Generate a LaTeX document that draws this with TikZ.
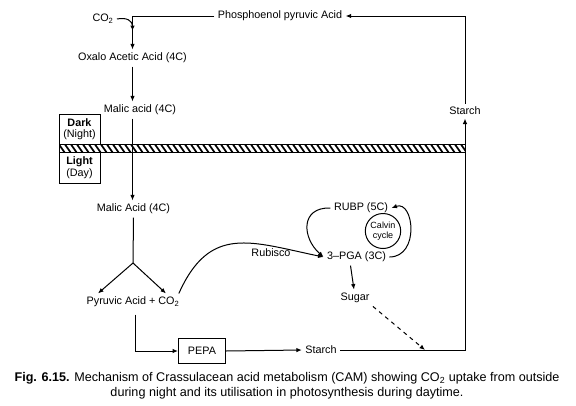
\documentclass[tikz,border=0pt]{standalone}
\usepackage{fontspec}
\setmainfont{Liberation Sans}
\usetikzlibrary{arrows.meta, shapes.geometric}

\begin{document}
\begin{tikzpicture}[x=1pt, y=-1pt,
        every node/.style={font=\fontsize{10.8}{11.5}\selectfont},
        flow/.style={line width=1pt, -{Latex[length=5.5pt, width=4.5pt]}},
        plain/.style={line width=1pt}]
        \useasboundingbox (0,0) rectangle (576,405);

        % Night
        \node (co2) at (103,19) {CO\textsubscript{2}};
        \node (pep) at (280,16) {Phosphoenol pyruvic Acid};
        \node (oaa) at (132.5,58) {Oxalo Acetic Acid (4C)};
        \node (mal1) at (140,110) {Malic acid (4C)};
        \coordinate (jn) at (132.5,31);

        % Dark / Light
        \node[draw, plain, minimum width=41, minimum height=30, align=center] (dark) at (79.5,129) {\textbf{Dark}\\(Night)};
        \node[draw, plain, minimum width=41, minimum height=31, align=center] (light) at (79.5,167.5) {\textbf{Light}\\(Day)};
        \begin{scope}
            \clip (59,144) rectangle (465,152);
            \foreach \x in {52,58,...,470}
                \draw[line width=1.7pt] (\x,143) -- (\x+7,153);
        \end{scope}
        \draw[plain] (59,144) rectangle (465,152);

        % Day
        \node (mal2) at (133.5,209) {Malic Acid (4C)};
        \coordinate (br) at (133,263);
        \node (pyr) at (133,302) {Pyruvic Acid + CO\textsubscript{2}};
        \node[draw, plain, minimum width=47, minimum height=25] (pepa) at (202,351) {PEPA};
        \node (starch1) at (321,350) {Starch};
        \node (starch2) at (465,111) {Starch};
        \node (rub) at (271,253) {Rubisco};
        \node (rubp) at (361,208) {RUBP (5C)};
        \node (pga) at (356.5,257) {3--PGA (3C)};
        \node[ellipse, draw, plain, inner sep=0pt, minimum width=32, minimum height=35, align=center,
              font=\fontsize{9}{10}\selectfont] (calvin) at (383,231) {Calvin\\cycle};
        \node (sugar) at (355,298) {Sugar};
        \coordinate (dend) at (425,350);

        % Connectors
        \draw[flow] (pep.west) -| (oaa.north);
        \draw[flow] (co2.east) .. controls (127,17) and (132.5,21) .. (jn);
        \draw[flow] (oaa.south) -- (oaa.south |- mal1.north);
        \draw[flow] (oaa.south |- mal1.south) -- (oaa.south |- mal2.north);
        \draw[plain] (mal2.south) -- (br);
        \draw[flow] (br) -- ([xshift=-35pt]pyr.north);
        \draw[flow] (br) -- ([xshift=33pt]pyr.north);
        \draw[flow] ([xshift=2pt, yshift=-4pt]pyr.south) |- (pepa.west);
        \draw[flow] (pepa.east) -- (starch1.west);
        \draw[flow] (starch1.east) -| (starch2.south);
        \draw[flow] (starch2.north) |- (pep.east);
        \draw[flow] ([xshift=-4pt]pyr.north east) .. controls (210,224) and (251,242) .. (pga.west);
        \draw[flow] (rubp.west) .. controls (300,207) and (302,238) .. (pga.west);
        \draw[flow] (pga.east) .. controls (420,257) and (414,200) .. (rubp.east);
        \draw[flow] ([xshift=-6pt]pga.south) -- ([xshift=-1pt]sugar.north);
        \draw[flow, dash pattern=on 4pt off 4pt] (sugar.south east) -- (dend);

        % Caption
        \node[font=\fontsize{12.6}{15}\selectfont, align=center] (cap) at (287,385.5)
            {\textbf{Fig. 6.15.} Mechanism of Crassulacean acid metabolism (CAM) showing CO\textsubscript{2} uptake from outside\\during night and its utilisation in photosynthesis during daytime.};
    \end{tikzpicture}
\end{document}
